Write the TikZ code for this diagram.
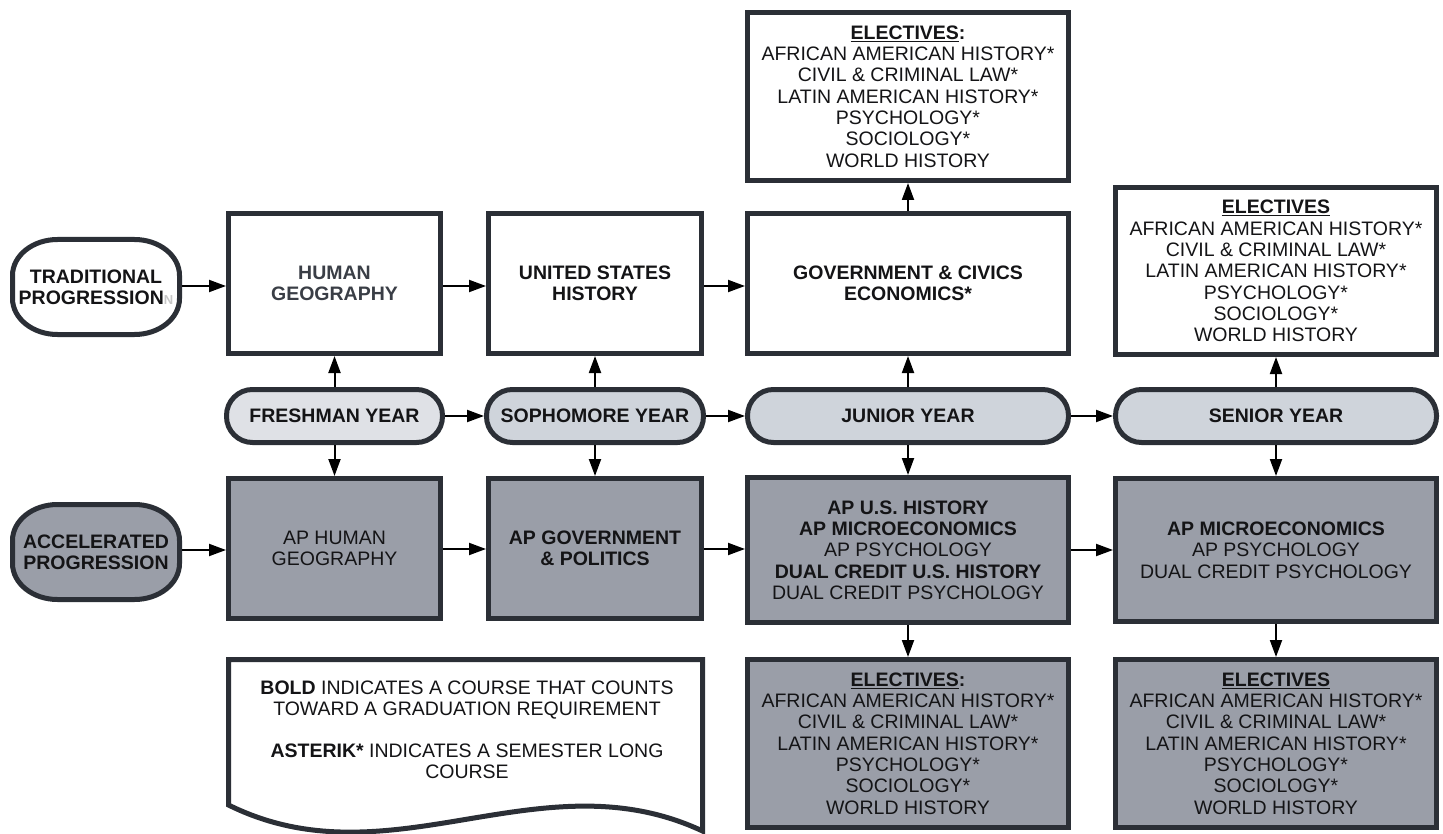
\documentclass[tikz,border=0pt]{standalone}
\usepackage{fontspec}
\setmainfont{Liberation Sans}
\usetikzlibrary{arrows.meta}
\definecolor{bord}{RGB}{43,47,54}
\definecolor{txt}{RGB}{20,20,22}
\definecolor{hgtxt}{RGB}{58,62,70}
\definecolor{fresh}{RGB}{223,225,230}
\definecolor{yearfill}{RGB}{207,212,219}
\definecolor{dark}{RGB}{154,158,168}
\begin{document}
\begin{tikzpicture}[x=1pt,y=-1pt,
  box/.style={draw=bord, line width=5pt, align=center, inner sep=0pt, text=txt,
    font=\fontsize{19.5}{21.3}\selectfont},
  wbox/.style={box, fill=white},
  dbox/.style={box, fill=dark},
  pill/.style={box, rounded corners=26pt, minimum height=53pt, font=\fontsize{19.5}{21.3}\selectfont\bfseries},
  ovaltext/.style={align=center, inner sep=0pt, outer sep=0pt, text=txt, minimum width=172pt, minimum height=100pt,
    font=\fontsize{19.5}{21.3}\selectfont\bfseries},
  ovalline/.style={draw=bord, line width=5pt},
  arr/.style={line width=2pt, draw=black, -{Triangle[length=17pt,width=12pt]}}
]
\useasboundingbox (0,0) rectangle (1443,834);

% traditional row
\coordinate (tc) at (96,287);
\draw[ovalline, fill=white, shift={(tc)}]
  (-38.5,-47.5) -- (38.5,-47.5) .. controls (63.35,-47.5) and (83.5,-31.4) .. (83.5,-11.5)
  -- (83.5,11.5) .. controls (83.5,31.4) and (63.35,47.5) .. (38.5,47.5)
  -- (-38.5,47.5) .. controls (-63.35,47.5) and (-83.5,31.4) .. (-83.5,11.5)
  -- (-83.5,-11.5) .. controls (-83.5,-31.4) and (-63.35,-47.5) .. cycle;
\node[ovaltext] (trad) at (tc) {TRADITIONAL\\PROGRESSION{\fontsize{13}{13}\selectfont\textcolor{black!22}{N}}};
\node[wbox, minimum width=212pt, minimum height=140pt, font=\fontsize{19.5}{21.3}\selectfont\bfseries, text=hgtxt] (hg) at (334.5,283.5) {HUMAN\\GEOGRAPHY};
\node[wbox, minimum width=213pt, minimum height=140pt, font=\fontsize{19.5}{21.3}\selectfont\bfseries] (ush) at (595,283.5) {UNITED STATES\\HISTORY};
\node[wbox, minimum width=321pt, minimum height=140pt, font=\fontsize{19.5}{21.3}\selectfont\bfseries] (gov) at (908,283.5) {GOVERNMENT \& CIVICS\\ECONOMICS*};
\node[wbox, minimum width=321pt, minimum height=168pt] (el1) at (908,96.5) {\underline{\textbf{ELECTIVES}}\textbf{:}\\AFRICAN AMERICAN HISTORY*\\CIVIL \& CRIMINAL LAW*\\LATIN AMERICAN HISTORY*\\PSYCHOLOGY*\\SOCIOLOGY*\\WORLD HISTORY};
\node[wbox, minimum width=321pt, minimum height=167pt] (el2) at (1276,271) {\underline{\textbf{ELECTIVES}}\\AFRICAN AMERICAN HISTORY*\\CIVIL \& CRIMINAL LAW*\\LATIN AMERICAN HISTORY*\\PSYCHOLOGY*\\SOCIOLOGY*\\WORLD HISTORY};

% years
\node[pill, fill=fresh, minimum width=216pt] (fr) at (334.5,416) {FRESHMAN YEAR};
\node[pill, fill=yearfill, minimum width=217pt] (so) at (595,416) {SOPHOMORE YEAR};
\node[pill, fill=yearfill, minimum width=321pt] (jr) at (908,416) {JUNIOR YEAR};
\node[pill, fill=yearfill, minimum width=321pt] (sr) at (1276,416) {SENIOR YEAR};

% accelerated row
\coordinate (ac) at (96,552);
\draw[ovalline, fill=dark, shift={(ac)}]
  (-38.5,-47.5) -- (38.5,-47.5) .. controls (63.35,-47.5) and (83.5,-31.4) .. (83.5,-11.5)
  -- (83.5,11.5) .. controls (83.5,31.4) and (63.35,47.5) .. (38.5,47.5)
  -- (-38.5,47.5) .. controls (-63.35,47.5) and (-83.5,31.4) .. (-83.5,11.5)
  -- (-83.5,-11.5) .. controls (-83.5,-31.4) and (-63.35,-47.5) .. cycle;
\node[ovaltext] (acc) at (ac) {ACCELERATED\\PROGRESSION};
\node[dbox, minimum width=212pt, minimum height=140pt] (aphg) at (334.5,548.5) {AP HUMAN\\GEOGRAPHY};
\node[dbox, minimum width=213pt, minimum height=140pt, font=\fontsize{19.5}{21.3}\selectfont\bfseries] (apgov) at (595,548.5) {AP GOVERNMENT\\\& POLITICS};
\node[dbox, minimum width=321pt, minimum height=145pt] (apjr) at (908,550) {\textbf{AP U.S. HISTORY}\\\textbf{AP MICROECONOMICS}\\AP PSYCHOLOGY\\\textbf{DUAL CREDIT U.S. HISTORY}\\DUAL CREDIT PSYCHOLOGY};
\node[dbox, minimum width=321pt, minimum height=143pt] (apsr) at (1276,550) {\textbf{AP MICROECONOMICS}\\AP PSYCHOLOGY\\DUAL CREDIT PSYCHOLOGY};
\node[dbox, minimum width=321pt, minimum height=168pt] (el3) at (908,743.5) {\underline{\textbf{ELECTIVES}}\textbf{:}\\AFRICAN AMERICAN HISTORY*\\CIVIL \& CRIMINAL LAW*\\LATIN AMERICAN HISTORY*\\PSYCHOLOGY*\\SOCIOLOGY*\\WORLD HISTORY};
\node[dbox, minimum width=321pt, minimum height=168pt] (el4) at (1276,743.5) {\underline{\textbf{ELECTIVES}}\\AFRICAN AMERICAN HISTORY*\\CIVIL \& CRIMINAL LAW*\\LATIN AMERICAN HISTORY*\\PSYCHOLOGY*\\SOCIOLOGY*\\WORLD HISTORY};

% note (document shape)
\draw[draw=bord, line width=5pt, fill=white, line join=miter]
  (228.5,659.5) -- (702.5,659.5) -- (702.5,831)
  .. controls (540,755) and (390,885) .. (228.5,805) -- cycle;
\node[align=center, inner sep=0pt, text=txt, font=\fontsize{19.5}{21}\selectfont] (note) at (467,730)
  {\textbf{BOLD} INDICATES A COURSE THAT COUNTS\\TOWARD A GRADUATION REQUIREMENT\\[20.5pt]\textbf{ASTERIK*} INDICATES A SEMESTER LONG\\COURSE};

% arrows: horizontal
\draw[arr] (trad.east |- 0,286) -- (hg.west |- 0,286);
\draw[arr] (hg.east |- 0,286) -- (ush.west |- 0,286);
\draw[arr] (ush.east |- 0,286) -- (gov.west |- 0,286);
\draw[arr] (fr) -- (so);
\draw[arr] (so) -- (jr);
\draw[arr] (jr) -- (sr);
\draw[arr] (acc.east |- 0,550) -- (aphg.west |- 0,550);
\draw[arr] (aphg.east |- 0,549) -- (apgov.west |- 0,549);
\draw[arr] (apgov.east |- 0,549) -- (apjr.west |- 0,549);
\draw[arr] (apjr.east |- 0,550) -- (apsr.west |- 0,550);
% arrows: vertical
\draw[arr] (gov) -- (el1);
\draw[arr] (fr) -- (hg);
\draw[arr] (fr) -- (aphg);
\draw[arr] (so) -- (ush);
\draw[arr] (so) -- (apgov);
\draw[arr] (jr) -- (gov);
\draw[arr] (jr) -- (apjr);
\draw[arr] (sr) -- (el2);
\draw[arr] (sr) -- (apsr);
\draw[arr] (apjr) -- (el3);
\draw[arr] (apsr) -- (el4);
\end{tikzpicture}
\end{document}
